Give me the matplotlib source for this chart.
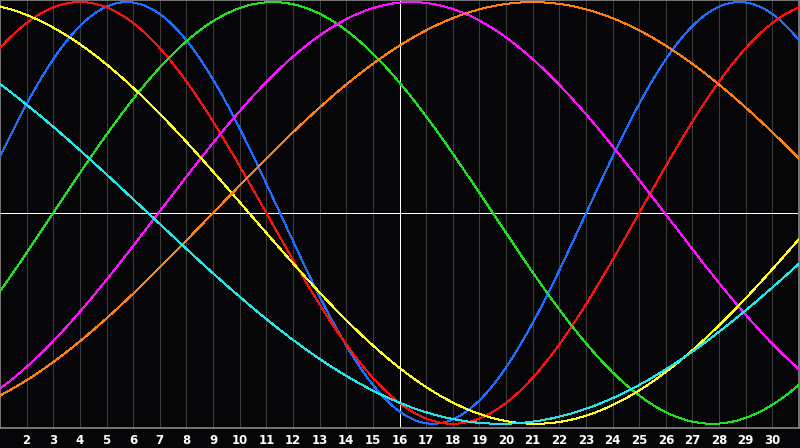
import numpy as np
import matplotlib
matplotlib.use('Agg')
import matplotlib.pyplot as plt

# biorhythm cycles: period (days) and day (from left edge) of the peak
names = ['physical', 'emotional', 'intellectual', 'intuitive', 'aesthetic', 'awareness', 'spiritual']
periods = [23, 28, 33, 38, 43, 48, 53]
peak_day = [5.76, 4.0, 11.25, 16.45, -0.4, 21.0, -6.7]
colors = ['#1e6eff', '#ff1010', '#20e020', '#ff10ff', '#ffff20', '#ff8010', '#20e8e8']

day_labels = list(range(2, 31))
today = 16

fig = plt.figure(figsize=(8, 4.48), dpi=100, facecolor='#060608')
ax = fig.add_axes([0, 20 / 448, 799 / 800, 428 / 448])
ax.set_facecolor('#060608')

t = np.linspace(1, 31, 1200)
for p, pk, c in zip(periods, peak_day, colors):
    ax.plot(t, np.cos(2 * np.pi * (t - pk) / p), color=c, linewidth=0.72,
            antialiased=False, zorder=3)

for d in day_labels:
    ax.axvline(d, color='#3c3c3c', linewidth=0.72, antialiased=False, zorder=1)
ax.axvline(today, color='white', linewidth=0.72, antialiased=False, zorder=2)
ax.axhline(0, color='white', linewidth=0.72, antialiased=False, zorder=2)

ax.set_xlim(1, 31)
ax.set_ylim(-1.02, 1.01)
ax.set_yticks([])
ax.set_xticks(day_labels)
ax.set_xticklabels([str(d) for d in day_labels], color='white',
                   fontsize=8.5, fontweight='bold')
ax.tick_params(axis='x', length=0, pad=4)
for s in ax.spines.values():
    s.set_color('#8a8a8a')
    s.set_linewidth(1.2)

fig.savefig('out.png', dpi=100, facecolor=fig.get_facecolor())
